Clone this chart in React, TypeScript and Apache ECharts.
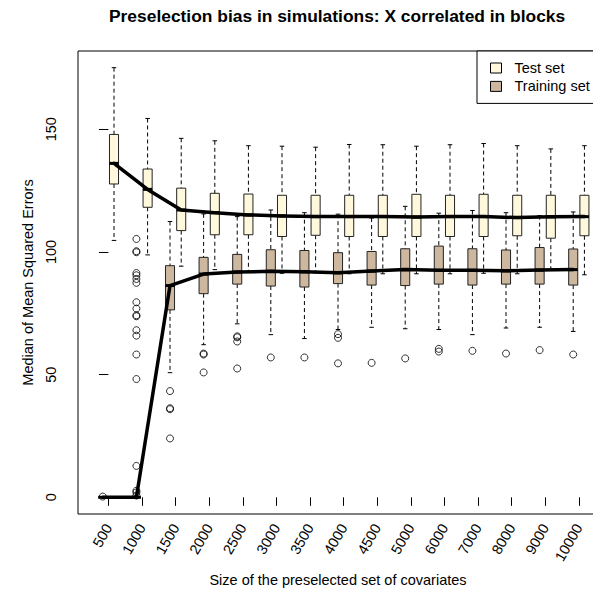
import React, { useEffect, useRef } from 'react';
import * as echarts from 'echarts';

// Size of the preselected covariate set (one group of boxes per size)
const sizes = ['500', '1000', '1500', '2000', '2500', '3000', '3500', '4000', '4500', '5000', '6000', '7000', '8000', '9000', '10000'];

// Test set: five-number summaries of the mean squared errors
const testLow = [104.7, 98.8, 94.2, 92.8, 92.1, 91.3, 91.5, 91.1, 91.1, 91.1, 91.1, 91.3, 91.1, 92.5, 90.7];
const testQ1 = [127.7, 118.2, 108.7, 107.0, 107.0, 106.3, 106.8, 106.3, 106.3, 106.3, 106.3, 106.3, 106.6, 105.6, 106.6];
const testMedian = [136.1, 125.5, 117.1, 116.0, 115.1, 114.7, 114.4, 114.4, 114.4, 114.2, 114.4, 114.4, 114.0, 114.3, 114.4];
const testQ3 = [147.9, 133.8, 126.0, 123.9, 123.6, 123.1, 123.1, 123.1, 123.1, 123.5, 123.1, 123.5, 123.1, 123.1, 123.1];
const testHigh = [175.1, 154.4, 146.3, 145.3, 143.3, 143.1, 142.7, 143.8, 143.7, 143.1, 143.7, 144.2, 143.3, 142.0, 143.3];

// Training set: five-number summaries of the mean squared errors
const trainLow = [0, 0, 50.8, 62.2, 70.7, 66.3, 64.7, 68.4, 69.3, 68.7, 68.4, 66.3, 69.0, 69.3, 67.6];
const trainQ1 = [0, 0, 76.4, 83.0, 86.9, 86.1, 85.7, 87.1, 86.5, 86.3, 86.9, 86.5, 86.9, 86.9, 86.5];
const trainMedian = [0, 0, 86.3, 91.0, 91.8, 92.1, 91.9, 91.5, 92.2, 92.8, 92.5, 92.5, 92.3, 92.6, 92.8];
const trainQ3 = [0, 0, 94.4, 97.8, 99.0, 100.9, 100.6, 99.7, 100.2, 101.3, 102.4, 101.3, 100.8, 101.8, 101.2];
const trainHigh = [0, 0, 112.4, 115.5, 114.4, 117.1, 116.0, 115.4, 113.8, 118.6, 115.8, 116.9, 116.0, 114.8, 116.3];

// Training set outliers, one list per size
const trainOutliers = [
  [0.3],
  [105.3, 100.3, 99.9, 91.4, 90.5, 89.0, 87.4, 79.5, 76.9, 74.2, 73.8, 68.1, 65.9, 58.2, 48.2, 12.8, 2.7, 2.0, 0.7],
  [43.3, 36.3, 35.9, 24.0],
  [58.6, 58.2, 50.9],
  [65.6, 65.2, 63.5, 52.5],
  [57.0],
  [57.0],
  [66.5, 65.0, 54.6],
  [54.8],
  [56.6],
  [60.5, 59.4],
  [59.7],
  [58.6],
  [60.0],
  [58.2],
];

const yTicks = [0, 50, 100, 150];

const FONT = '"Liberation Sans", Arial, Helvetica, sans-serif';
const TEST_FILL = '#FFF8DC';
const TRAIN_FILL = '#CDB79E';
const TEST_SHIFT = 1 / 6;
const TRAIN_SHIFT = -1 / 6;
const BOX_WIDTH = 0.27;

// One box: dashed whiskers with short staples, filled box, thick median bar
function boxItem(params: any, api: any, fill: string) {
  const x = api.value(0);
  const lo = api.value(1);
  const q1 = api.value(2);
  const md = api.value(3);
  const q3 = api.value(4);
  const hi = api.value(5);
  const half = BOX_WIDTH / 2;
  const [xl, yq3] = api.coord([x - half, q3]);
  const [xr, yq1] = api.coord([x + half, q1]);
  const [xc, ylo] = api.coord([x, lo]);
  const yhi = api.coord([x, hi])[1];
  const ymd = api.coord([x, md])[1];
  const staple = (xr - xl) / 4;
  const dashed = { stroke: '#000', lineWidth: 1, lineDash: [4, 3] };
  const solid = { stroke: '#000', lineWidth: 1 };
  return {
    type: 'group',
    children: [
      { type: 'line', shape: { x1: xc, y1: yhi, x2: xc, y2: yq3 }, style: dashed },
      { type: 'line', shape: { x1: xc, y1: yq1, x2: xc, y2: ylo }, style: dashed },
      { type: 'line', shape: { x1: xc - staple, y1: yhi, x2: xc + staple, y2: yhi }, style: solid },
      { type: 'line', shape: { x1: xc - staple, y1: ylo, x2: xc + staple, y2: ylo }, style: solid },
      {
        type: 'rect',
        shape: { x: xl, y: yq3, width: xr - xl, height: yq1 - yq3 },
        style: { fill, stroke: '#222', lineWidth: 1 },
      },
      { type: 'line', shape: { x1: xl, y1: ymd, x2: xr, y2: ymd }, style: { stroke: '#000', lineWidth: 3 } },
    ],
  };
}

function buildOption() {
  const idx = sizes.map((_, i) => i);
  const testBoxes = sizes.map((_, i) => [i + TEST_SHIFT, testLow[i], testQ1[i], testMedian[i], testQ3[i], testHigh[i]]);
  const trainBoxes = sizes.map((_, i) => [i + TRAIN_SHIFT, trainLow[i], trainQ1[i], trainMedian[i], trainQ3[i], trainHigh[i]]);
  const outlierPoints: number[][] = [];
  trainOutliers.forEach((list, i) => list.forEach((v) => outlierPoints.push([i + TRAIN_SHIFT, v])));

  return {
    animation: false,
    backgroundColor: '#fff',
    textStyle: { fontFamily: FONT, color: '#000' },
    title: {
      text: 'Preselection bias in simulations: X correlated in blocks',
      left: 109,
      top: 7,
      padding: 0,
      textStyle: { fontFamily: FONT, fontWeight: 'bold', fontSize: 17.4, color: '#000' },
    },
    grid: {
      left: 78,
      right: 12,
      top: 51,
      bottom: 77,
      show: true,
      borderColor: '#000',
      borderWidth: 1,
      backgroundColor: 'transparent',
    },
    legend: {
      left: 477,
      top: 51,
      orient: 'vertical',
      align: 'left',
      selectedMode: false,
      data: [
        { name: 'Test set', icon: 'rect', itemStyle: { color: TEST_FILL, borderColor: '#000', borderWidth: 1 } },
        { name: 'Training set', icon: 'rect', itemStyle: { color: TRAIN_FILL, borderColor: '#000', borderWidth: 1 } },
      ],
      itemWidth: 11,
      itemHeight: 10,
      itemGap: 2.4,
      padding: [9, 14, 9, 13],
      borderColor: '#000',
      borderWidth: 1,
      backgroundColor: '#fff',
      textStyle: { fontFamily: FONT, fontSize: 14.5, color: '#000', lineHeight: 16, padding: [0, 0, 0, 8] },
    },
    xAxis: {
      type: 'value',
      min: -0.905,
      max: 14.571,
      splitLine: { show: false },
      axisLine: { show: false },
      axisTick: { show: true, customValues: idx, length: 8.5, lineStyle: { color: '#000' } },
      axisLabel: {
        customValues: idx,
        formatter: (v: number) => sizes[Math.round(v)],
        rotate: 60,
        margin: 11,
        fontSize: 14.5,
        fontFamily: FONT,
        color: '#000',
      },
      name: 'Size of the preselected set of covariates',
      nameLocation: 'middle',
      nameGap: 58,
      nameTextStyle: { fontFamily: FONT, fontSize: 14.5, color: '#000' },
    },
    yAxis: {
      type: 'value',
      min: -6.8,
      max: 181.9,
      splitLine: { show: false },
      axisLine: { show: false },
      axisTick: { show: true, customValues: yTicks, length: 9.5, lineStyle: { color: '#000' } },
      axisLabel: {
        customValues: yTicks,
        rotate: 90,
        margin: 20,
        fontSize: 14.5,
        fontFamily: FONT,
        color: '#000',
      },
      name: 'Median of Mean Squared Errors',
      nameLocation: 'middle',
      nameGap: 34,
      nameRotate: 90,
      nameTextStyle: { fontFamily: FONT, fontSize: 14.5, color: '#000' },
    },
    series: [
      {
        name: 'Test set',
        type: 'custom',
        itemStyle: { color: TEST_FILL },
        encode: { x: 0, y: [1, 2, 3, 4, 5] },
        renderItem: (p: any, api: any) => boxItem(p, api, TEST_FILL),
        data: testBoxes,
        z: 2,
      },
      {
        name: 'Training set',
        type: 'custom',
        itemStyle: { color: TRAIN_FILL },
        encode: { x: 0, y: [1, 2, 3, 4, 5] },
        renderItem: (p: any, api: any) => boxItem(p, api, TRAIN_FILL),
        data: trainBoxes,
        z: 2,
      },
      {
        name: 'Test median',
        type: 'line',
        data: sizes.map((_, i) => [i + TEST_SHIFT, testMedian[i]]),
        symbol: 'none',
        lineStyle: { color: '#000', width: 3.5, cap: 'round', join: 'round' },
        z: 3,
      },
      {
        name: 'Training median',
        type: 'line',
        data: sizes.map((_, i) => [i + TRAIN_SHIFT, trainMedian[i]]),
        symbol: 'none',
        lineStyle: { color: '#000', width: 3.5, cap: 'round', join: 'round' },
        z: 3,
      },
      {
        name: 'Training outliers',
        type: 'scatter',
        data: outlierPoints,
        symbol: 'circle',
        symbolSize: 7,
        itemStyle: { color: 'rgba(0,0,0,0)', borderColor: '#000', borderWidth: 1 },
        z: 4,
      },
    ],
  };
}

export default function App() {
  const ref = useRef<HTMLDivElement>(null);
  useEffect(() => {
    if (!ref.current) return;
    const chart = echarts.init(ref.current, null, { renderer: 'svg' });
    chart.setOption(buildOption() as any);
    return () => chart.dispose();
  }, []);
  return (
    <div style={{ position: 'fixed', left: 0, top: 0, width: 593, height: 592, overflow: 'hidden', background: '#fff' }}>
      <div ref={ref} style={{ width: 610, height: 592 }} />
    </div>
  );
}
